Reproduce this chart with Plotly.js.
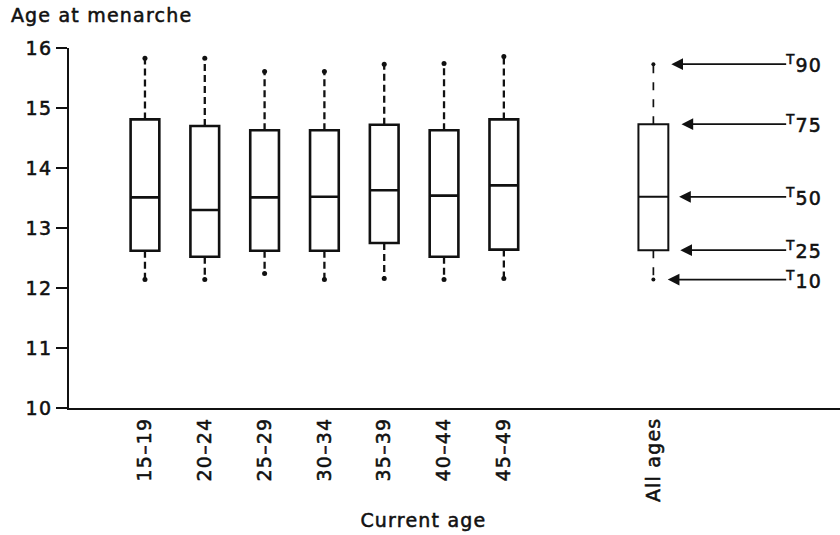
<!DOCTYPE html>
<html>
<head>
<meta charset="utf-8">
<script src="https://cdn.plot.ly/plotly-3.0.1.min.js"></script>
<style>
  html, body { margin: 0; padding: 0; background: #fff; }
  #chart { width: 840px; height: 535px; }
  #chart svg text { letter-spacing: 1.2px; stroke: #111; stroke-width: 0.55px; }
</style>
</head>
<body>
<div id="chart"></div>
<script>
// ---- Data ----
const categories = ['15–19', '20–24', '25–29', '30–34', '35–39', '40–44', '45–49'];
const p10    = [12.14, 12.14, 12.24, 12.14, 12.16, 12.14, 12.16];
const q1     = [12.62, 12.52, 12.62, 12.62, 12.75, 12.52, 12.64];
const median = [13.51, 13.30, 13.51, 13.52, 13.63, 13.54, 13.71];
const q3     = [14.81, 14.70, 14.63, 14.63, 14.72, 14.63, 14.81];
const p90    = [15.83, 15.83, 15.61, 15.61, 15.73, 15.74, 15.86];

const allLabel  = 'All ages';
const allP10    = 12.14;
const allQ1     = 12.63;
const allMedian = 13.52;
const allQ3     = 14.73;
const allP90    = 15.73;

const percentileNames = ['90', '75', '50', '25', '10'];
const yTicks = [10, 11, 12, 13, 14, 15, 16];
const xTitle = 'Current age';
const yTitle = 'Age at menarche';

// ---- Layout positions ----
const pos = categories.map((_, i) => i);
const allPos = 8.5;
const FONT = 'DejaVu Sans, Arial, sans-serif';
const TXT = { family: FONT, size: 19, color: '#111' };

const traces = [];

// Whiskers (dashed) for age groups
const wx = [], wy = [];
pos.forEach((p, i) => {
  wx.push(p, p, null, p, p, null);
  wy.push(q3[i], p90[i], null, q1[i], p10[i], null);
});
traces.push({
  type: 'scatter', mode: 'lines', x: wx, y: wy,
  line: { color: '#111', width: 2.3, dash: '7px,4px' },
  hoverinfo: 'skip', showlegend: false
});
// Whisker end dots
traces.push({
  type: 'scatter', mode: 'markers',
  x: pos.concat(pos), y: p90.concat(p10),
  marker: { color: '#111', size: 5 },
  hoverinfo: 'skip', showlegend: false
});

// Boxes for age groups
traces.push({
  type: 'box', x: pos, q1: q1, median: median, q3: q3,
  lowerfence: q1, upperfence: q3,
  width: 0.48, whiskerwidth: 0, boxpoints: false,
  fillcolor: 'rgba(255,255,255,0)',
  line: { color: '#111', width: 2.6 },
  showlegend: false
});

// All ages
traces.push({
  type: 'scatter', mode: 'lines',
  x: [allPos, allPos, null, allPos, allPos],
  y: [allQ3, allP90, null, allQ1, allP10],
  line: { color: '#111', width: 1.7, dash: '8px,9px' },
  hoverinfo: 'skip', showlegend: false
});
traces.push({
  type: 'scatter', mode: 'markers',
  x: [allPos, allPos], y: [allP90, allP10],
  marker: { color: '#111', size: 4 },
  hoverinfo: 'skip', showlegend: false
});
traces.push({
  type: 'box', x: [allPos], q1: [allQ1], median: [allMedian], q3: [allQ3],
  lowerfence: [allQ1], upperfence: [allQ3],
  width: 0.5, whiskerwidth: 0, boxpoints: false,
  fillcolor: 'rgba(255,255,255,0)',
  line: { color: '#111', width: 2.0 },
  showlegend: false
});

// Percentile arrows with their labels at the tail
const arrowVals = [allP90, allQ3, allMedian, allQ1, allP10];
const headX = [8.80, 8.97, 8.93, 8.95, 8.74];
const annotations = [];
arrowVals.forEach((v, i) => {
  annotations.push({
    xref: 'x', yref: 'y', axref: 'x', ayref: 'y',
    x: headX[i], y: v, ax: 10.72, ay: v,
    xanchor: 'left', yanchor: 'middle',
    text: '<sup>T</sup>' + percentileNames[i],
    showarrow: true, borderpad: 0,
    arrowhead: 2, arrowsize: 1.3, arrowwidth: 1.8, arrowcolor: '#111',
    font: TXT
  });
});
annotations.push({
  xref: 'paper', yref: 'paper', x: 0.4604, y: -0.311,
  xanchor: 'center', yanchor: 'middle',
  text: xTitle, showarrow: false,
  font: TXT
});

const layout = {
  width: 840, height: 535,
  margin: { l: 69, r: 0, t: 48, b: 127, pad: 0 },
  paper_bgcolor: '#fff', plot_bgcolor: '#fff',
  showlegend: false,
  title: {
    text: yTitle, xref: 'container', yref: 'container',
    x: 0.013, xanchor: 'left', y: 0.972, yanchor: 'middle',
    font: TXT
  },
  xaxis: {
    range: [-1.27, 11.62],
    tickmode: 'array',
    tickvals: pos.concat([allPos]),
    ticktext: categories.concat([allLabel]),
    tickangle: -90,
    ticks: '',
    showline: true, linecolor: '#111', linewidth: 2,
    showgrid: false, zeroline: false,
    tickfont: TXT
  },
  yaxis: {
    range: [10, 16],
    tickmode: 'array', tickvals: yTicks,
    ticks: 'outside', ticklen: 11, tickwidth: 2, tickcolor: '#111',
    showline: true, linecolor: '#111', linewidth: 2,
    showgrid: false, zeroline: false,
    tickfont: TXT
  },
  annotations: annotations
};

Plotly.newPlot('chart', traces, layout, { staticPlot: true, displayModeBar: false });
</script>
</body>
</html>
